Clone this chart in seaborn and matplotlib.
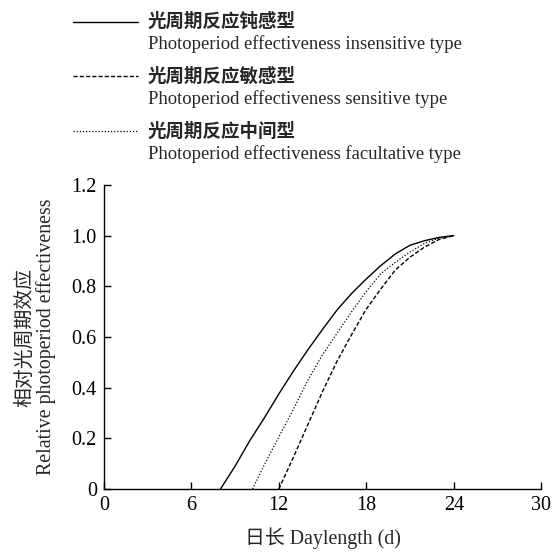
import matplotlib
matplotlib.use("Agg")
import matplotlib.pyplot as plt
import seaborn as sns
from matplotlib.lines import Line2D

# relative photoperiod effectiveness vs daylength
insens_x = [8, 9, 10, 11, 12, 13, 14, 15, 16, 17, 18, 19, 20, 21, 22, 23, 24]
insens_y = [0, 0.09, 0.19, 0.28, 0.375, 0.465, 0.55, 0.63, 0.707, 0.772, 0.829,
            0.882, 0.928, 0.962, 0.98, 0.993, 1.0]

facult_x = [10.2, 11, 12, 13, 14, 15, 16, 17, 18, 19, 20, 21, 22, 23, 24]
facult_y = [0, 0.095, 0.205, 0.315, 0.43, 0.53, 0.615, 0.70, 0.78, 0.85, 0.895,
            0.935, 0.97, 0.99, 1.0]

sens_x = [12, 13, 14, 15, 16, 17, 18, 19, 20, 21, 22, 23, 24]
sens_y = [0, 0.125, 0.255, 0.385, 0.505, 0.61, 0.71, 0.79, 0.865, 0.915, 0.955,
          0.985, 1.0]

x_ticks = [0, 6, 12, 18, 24, 30]
y_ticks = [0, 0.2, 0.4, 0.6, 0.8, 1.0, 1.2]
y_tick_labels = ["0", "0.2", "0.4", "0.6", "0.8", "1.0", "1.2"]

legend_cn = ["光周期反应钝感型", "光周期反应敏感型", "光周期反应中间型"]
legend_en = ["Photoperiod effectiveness insensitive type",
             "Photoperiod effectiveness sensitive type",
             "Photoperiod effectiveness facultative type"]

sns.set_theme(style="ticks")
plt.rcParams["font.family"] = ["Liberation Serif", "Noto Sans CJK SC"]
plt.rcParams["font.size"] = 13

fig = plt.figure(figsize=(5.58, 5.52), dpi=100)
ax = fig.add_axes([0.186, 0.114, 0.784, 0.551])

sns.lineplot(x=insens_x, y=insens_y, ax=ax, color="black", linewidth=1.0)
sns.lineplot(x=sens_x, y=sens_y, ax=ax, color="black", linewidth=1.0)
ax.lines[-1].set_dashes([3, 1.5])
sns.lineplot(x=facult_x, y=facult_y, ax=ax, color="black", linewidth=0.9)
ax.lines[-1].set_dashes([1, 1.5])

ax.set_xlim(0, 30)
ax.set_ylim(0, 1.2)
ax.set_xticks(x_ticks)
ax.set_yticks(y_ticks)
ax.set_yticklabels(y_tick_labels)
ax.tick_params(direction="in", length=5, width=1, colors="black", labelsize=14.5, pad=5)
for side in ["top", "right"]:
    ax.spines[side].set_visible(False)
for side in ["left", "bottom"]:
    ax.spines[side].set_color("black")
    ax.spines[side].set_linewidth(1)

ax.set_xlabel("日长 Daylength (d)", fontsize=14.3, labelpad=9)
ax.set_ylabel("相对光周期效应\nRelative photoperiod effectiveness", fontsize=14.3,
              labelpad=11, linespacing=1.05)

# legend drawn by hand: line next to the Chinese name, English name below
styles = [dict(linestyle="-", linewidth=1.0),
          dict(linestyle=(0, (3, 1.5)), linewidth=1.0),
          dict(linestyle=(0, (1, 1.5)), linewidth=0.9)]
top = 0.961
step = 0.0995
for i in range(3):
    yc = top - i * step
    fig.add_artist(Line2D([0.131, 0.247], [yc, yc], color="black",
                          transform=fig.transFigure, **styles[i]))
    fig.text(0.265, yc, legend_cn[i], fontsize=13.3, fontweight="bold",
             va="center", ha="left")
    fig.text(0.265, yc - 0.041, legend_en[i], fontsize=13.4, va="center", ha="left")

fig.savefig("out.png", dpi=100, facecolor="white")
